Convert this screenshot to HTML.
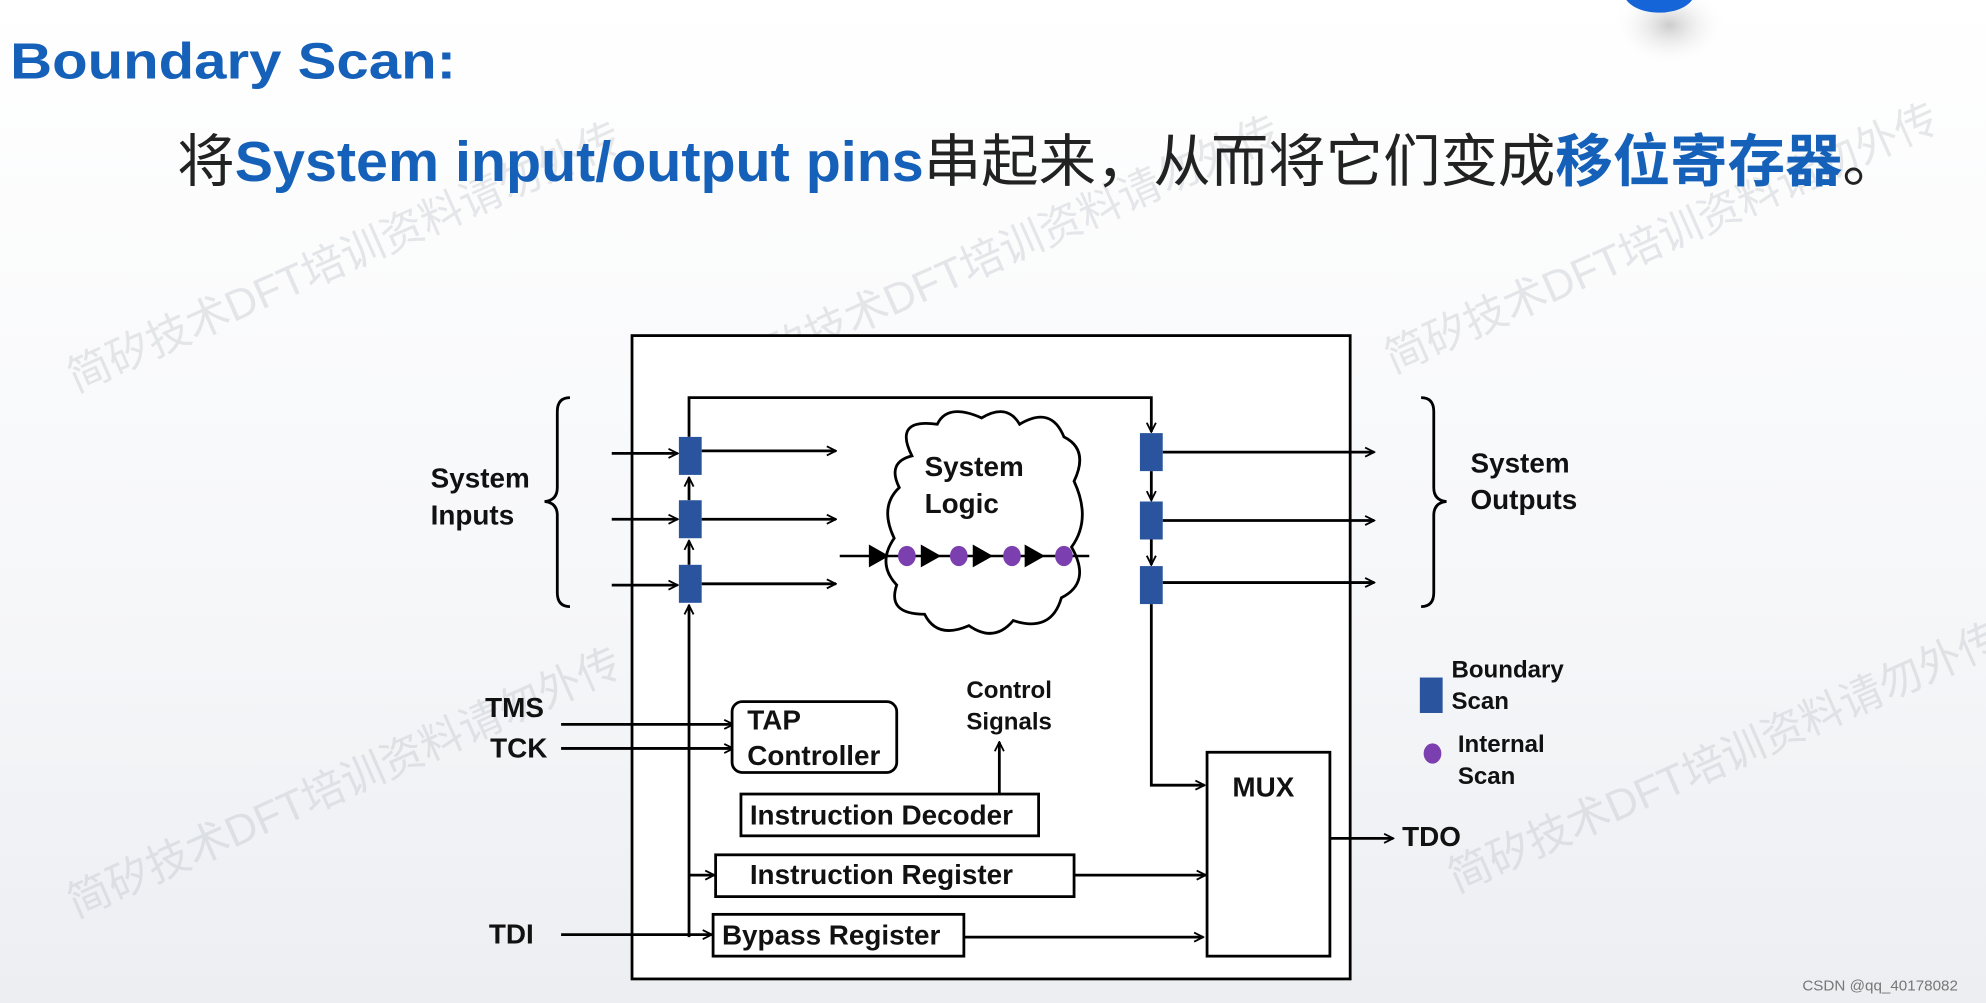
<!DOCTYPE html>
<html><head><meta charset="utf-8"><style>
html,body{margin:0;padding:0;width:1986px;height:1003px;overflow:hidden;background:#fff}
svg{display:block}
text{font-family:"Liberation Sans","Noto Sans CJK SC",sans-serif}
</style></head><body>
<svg width="1986" height="1003" viewBox="0 0 1568 792" preserveAspectRatio="none" xmlns="http://www.w3.org/2000/svg">
<defs>
<linearGradient id="bg" x1="0" y1="0" x2="0" y2="1">
<stop offset="0" stop-color="#ffffff"/><stop offset="0.6" stop-color="#f6f7f9"/><stop offset="1" stop-color="#eceef2"/></linearGradient>
<marker id="a" viewBox="0 0 10 10" refX="9" refY="5" markerWidth="9" markerHeight="9" markerUnits="userSpaceOnUse" orient="auto"><path d="M1,1 L9,5 L1,9" fill="none" stroke="#000" stroke-width="1.6"/></marker>
<radialGradient id="sh"><stop offset="0" stop-color="#999" stop-opacity="0.5"/><stop offset="1" stop-color="#fff" stop-opacity="0"/></radialGradient>
</defs>
<rect width="1568" height="792" fill="url(#bg)"/>
<ellipse cx="1318" cy="20" rx="45" ry="32" fill="url(#sh)"/>
<ellipse cx="1310" cy="-6" rx="28" ry="16" fill="#1565d8"/>
<g fill="#b8bcc4" fill-opacity="0.35" font-size="34">
<text transform="translate(60,310) rotate(-24)">简矽技术DFT培训资料请勿外传</text>
<text transform="translate(580,305) rotate(-24)">简矽技术DFT培训资料请勿外传</text>
<text transform="translate(1100,295) rotate(-24)">简矽技术DFT培训资料请勿外传</text>
<text transform="translate(60,725) rotate(-24)">简矽技术DFT培训资料请勿外传</text>
<text transform="translate(640,720) rotate(-24)">简矽技术DFT培训资料请勿外传</text>
<text transform="translate(1150,705) rotate(-24)">简矽技术DFT培训资料请勿外传</text>
</g>
<text x="8" y="62" font-size="40" font-weight="bold" fill="#1560b8" textLength="352" lengthAdjust="spacingAndGlyphs">Boundary Scan:</text>
<text x="140" y="143" font-size="45" fill="#222" textLength="1360" lengthAdjust="spacingAndGlyphs">将<tspan font-weight="bold" fill="#1560b8">System input/output pins</tspan>串起来，从而将它们变成<tspan font-weight="bold" fill="#1560b8">移位寄存器</tspan>。</text>
<g stroke="#000" stroke-width="2.2" fill="none">
<rect x="499" y="265" width="567" height="508" fill="#fff"/>
<path d="M450,314 Q440,314 440,325 L440,385 Q440,395 430,396 Q440,397 440,407 L440,468 Q440,479 450,479"/>
<path d="M1122,314 Q1132,314 1132,325 L1132,385 Q1132,395 1142,396 Q1132,397 1132,407 L1132,468 Q1132,479 1122,479"/>
<path d="M544,740 L544,478" marker-end="url(#a)"/>
<path d="M544,446 L544,427" marker-end="url(#a)"/>
<path d="M544,395 L544,377" marker-end="url(#a)"/>
<path d="M544,345 L544,314 L909,314 L909,341" marker-end="url(#a)"/>
<path d="M483,358 L535,358" marker-end="url(#a)"/>
<path d="M483,410 L535,410" marker-end="url(#a)"/>
<path d="M483,462 L535,462" marker-end="url(#a)"/>
<path d="M554,356 L660,356" marker-end="url(#a)"/>
<path d="M554,410 L660,410" marker-end="url(#a)"/>
<path d="M554,461 L660,461" marker-end="url(#a)"/>
<path d="M909,372 L909,395" marker-end="url(#a)"/>
<path d="M909,426 L909,446" marker-end="url(#a)"/>
<path d="M909,477 L909,620 L951,620" marker-end="url(#a)"/>
<path d="M918,357 L1085,357" marker-end="url(#a)"/>
<path d="M918,411 L1085,411" marker-end="url(#a)"/>
<path d="M918,460 L1085,460" marker-end="url(#a)"/>
<path d="M720,360 Q705,330 740,335 Q748,318 775,330 Q795,318 805,335 Q830,320 840,345 Q860,355 848,380 Q862,410 846,432 Q862,460 838,472 Q830,500 800,490 Q785,508 765,494 Q740,505 730,485 Q700,485 708,462 Q692,445 706,425 Q694,400 710,385 Q700,365 720,360 Z" fill="#fff"/>
<path d="M663,439 L860,439" stroke-width="2"/>
<path d="M443,572 L579,572" marker-end="url(#a)"/>
<path d="M443,591 L579,591" marker-end="url(#a)"/>
<path d="M789,627 L789,586" marker-end="url(#a)"/>
<path d="M544,691 L564,691" marker-end="url(#a)"/>
<path d="M848,691 L952,691" marker-end="url(#a)"/>
<path d="M443,738 L562,738" marker-end="url(#a)"/>
<path d="M761,740 L950,740" marker-end="url(#a)"/>
<path d="M1050,662 L1100,662" marker-end="url(#a)"/>
<rect x="578" y="554" width="130" height="56" rx="8" fill="#fff"/>
<rect x="585" y="627" width="235" height="33" fill="#fff"/>
<rect x="565" y="675" width="283" height="33" fill="#fff"/>
<rect x="563" y="722" width="198" height="33" fill="#fff"/>
<rect x="953" y="594" width="97" height="161" fill="#fff"/>
</g>
<g fill="#000">
<path d="M686,430 L702,439 L686,448Z"/><path d="M727,430 L743,439 L727,448Z"/><path d="M768,430 L784,439 L768,448Z"/><path d="M809,430 L825,439 L809,448Z"/>
</g>
<g fill="#7b3fb0"><ellipse cx="716" cy="439" rx="7" ry="8"/><ellipse cx="757" cy="439" rx="7" ry="8"/><ellipse cx="799" cy="439" rx="7" ry="8"/><ellipse cx="840" cy="439" rx="7" ry="8"/><ellipse cx="1131" cy="595" rx="7" ry="8"/></g>
<g fill="#2a559e">
<rect x="536" y="345" width="18" height="30"/><rect x="536" y="395" width="18" height="30"/><rect x="536" y="446" width="18" height="30"/>
<rect x="900" y="342" width="18" height="30"/><rect x="900" y="396" width="18" height="30"/><rect x="900" y="447" width="18" height="30"/>
<rect x="1121" y="535" width="18" height="28"/>
</g>
<g font-size="22" font-weight="bold" fill="#111">
<text x="340" y="385">System</text><text x="340" y="414">Inputs</text>
<text x="1161" y="373">System</text><text x="1161" y="402">Outputs</text>
<text x="730" y="376">System</text><text x="730" y="405">Logic</text>
<text x="383" y="566">TMS</text><text x="387" y="598">TCK</text><text x="386" y="745">TDI</text>
<text x="590" y="576">TAP</text><text x="590" y="604">Controller</text>
<text x="592" y="651">Instruction Decoder</text>
<text x="592" y="698">Instruction Register</text>
<text x="570" y="746">Bypass Register</text>
<text x="973" y="629">MUX</text><text x="1107" y="668">TDO</text>
</g>
<g font-size="19" font-weight="bold" fill="#111">
<text x="763" y="551">Control</text><text x="763" y="576">Signals</text>
<text x="1146" y="535">Boundary</text><text x="1146" y="560">Scan</text>
<text x="1151" y="594">Internal</text><text x="1151" y="619">Scan</text>
</g>
<text x="1423" y="782" font-size="12" fill="#777">CSDN @qq_40178082</text>
</svg>
</body></html>
